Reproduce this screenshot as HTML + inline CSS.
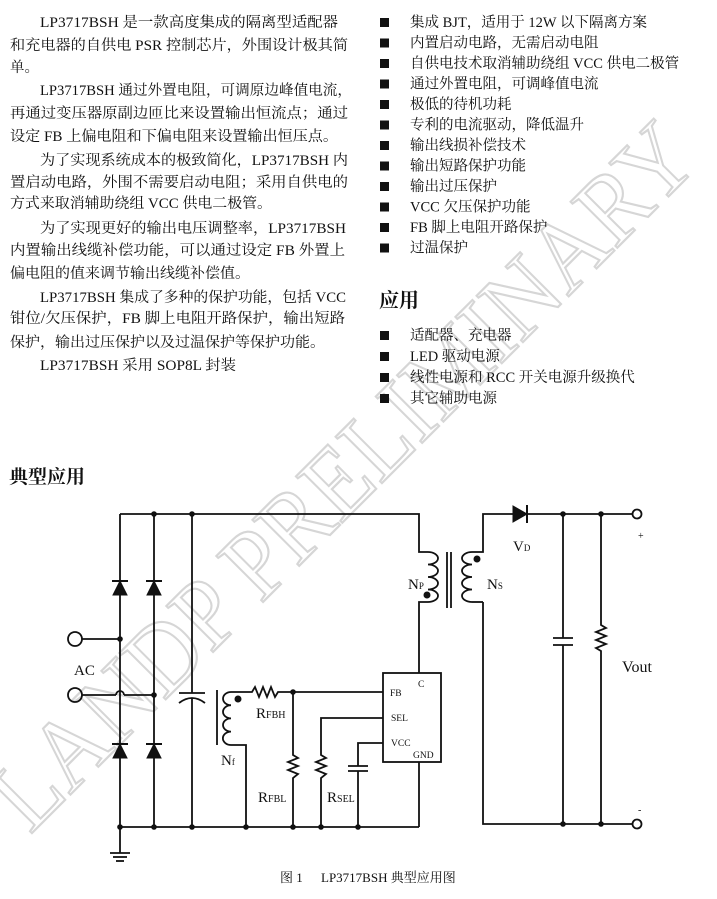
<!DOCTYPE html>
<html><head><meta charset="utf-8"><style>
body{margin:0;background:#fff;}
svg{display:block;}
text{font-family:"Liberation Serif","Noto Serif CJK SC","Noto Sans CJK SC",serif;}
</style></head><body>
<svg width="717" height="899" viewBox="0 0 717 899" xmlns="http://www.w3.org/2000/svg">
<!-- watermark -->
<g transform="translate(30,835) rotate(-45)">
<text x="0" y="0" font-size="100" textLength="950" lengthAdjust="spacingAndGlyphs" fill="#fff" stroke="#d6d6d6" stroke-width="2.2">LANDP PRELIMINARY</text>
</g>

<g font-size="14.5" fill="#111">
<text x="40" y="27" textLength="298" lengthAdjust="spacingAndGlyphs">LP3717BSH 是一款高度集成的隔离型适配器</text>
<text x="10" y="50" textLength="338" lengthAdjust="spacingAndGlyphs">和充电器的自供电 PSR 控制芯片，外围设计极其简</text>
<text x="10" y="72">单。</text>
<text x="40" y="95" textLength="312" lengthAdjust="spacingAndGlyphs">LP3717BSH 通过外置电阻，可调原边峰值电流，</text>
<text x="10" y="118" textLength="338" lengthAdjust="spacingAndGlyphs">再通过变压器原副边匝比来设置输出恒流点；通过</text>
<text x="10" y="141" textLength="328" lengthAdjust="spacingAndGlyphs">设定 FB 上偏电阻和下偏电阻来设置输出恒压点。</text>
<text x="40" y="165" textLength="308" lengthAdjust="spacingAndGlyphs">为了实现系统成本的极致简化，LP3717BSH 内</text>
<text x="10" y="187" textLength="338" lengthAdjust="spacingAndGlyphs">置启动电路，外围不需要启动电阻；采用自供电的</text>
<text x="10" y="208" textLength="262" lengthAdjust="spacingAndGlyphs">方式来取消辅助绕组 VCC 供电二极管。</text>
<text x="40" y="233" textLength="306" lengthAdjust="spacingAndGlyphs">为了实现更好的输出电压调整率，LP3717BSH</text>
<text x="10" y="255" textLength="335" lengthAdjust="spacingAndGlyphs">内置输出线缆补偿功能，可以通过设定 FB 外置上</text>
<text x="10" y="278" textLength="240" lengthAdjust="spacingAndGlyphs">偏电阻的值来调节输出线缆补偿值。</text>
<text x="40" y="302" textLength="306" lengthAdjust="spacingAndGlyphs">LP3717BSH 集成了多种的保护功能，包括 VCC</text>
<text x="10" y="323" textLength="335" lengthAdjust="spacingAndGlyphs">钳位/欠压保护，FB 脚上电阻开路保护，输出短路</text>
<text x="10" y="347" textLength="315" lengthAdjust="spacingAndGlyphs">保护，输出过压保护以及过温保护等保护功能。</text>
<text x="40" y="370" textLength="196" lengthAdjust="spacingAndGlyphs">LP3717BSH 采用 SOP8L 封装</text>
</g>

<g font-size="14.5" fill="#111">
<g fill="#111">
<rect x="380" y="18" width="9" height="9"/><rect x="380" y="38.5" width="9" height="9"/><rect x="380" y="59" width="9" height="9"/><rect x="380" y="79.5" width="9" height="9"/><rect x="380" y="100" width="9" height="9"/><rect x="380" y="120.5" width="9" height="9"/><rect x="380" y="141" width="9" height="9"/><rect x="380" y="161.5" width="9" height="9"/><rect x="380" y="182" width="9" height="9"/><rect x="380" y="202.5" width="9" height="9"/><rect x="380" y="223" width="9" height="9"/><rect x="380" y="243.5" width="9" height="9"/>
<rect x="380" y="331" width="9" height="9"/><rect x="380" y="352" width="9" height="9"/><rect x="380" y="373" width="9" height="9"/><rect x="380" y="394" width="9" height="9"/>
</g>
<text x="410" y="27">集成 BJT，适用于 12W 以下隔离方案</text>
<text x="410" y="47.5">内置启动电路，无需启动电阻</text>
<text x="410" y="68">自供电技术取消辅助绕组 VCC 供电二极管</text>
<text x="410" y="88.5">通过外置电阻，可调峰值电流</text>
<text x="410" y="109">极低的待机功耗</text>
<text x="410" y="129.5">专利的电流驱动，降低温升</text>
<text x="410" y="150">输出线损补偿技术</text>
<text x="410" y="170.5">输出短路保护功能</text>
<text x="410" y="191">输出过压保护</text>
<text x="410" y="211.5">VCC 欠压保护功能</text>
<text x="410" y="232">FB 脚上电阻开路保护</text>
<text x="410" y="252.5">过温保护</text>
<text x="379" y="307" font-size="20" font-weight="bold" font-family="Liberation Sans,Noto Sans CJK SC,sans-serif">应用</text>
<text x="410" y="340">适配器、充电器</text>
<text x="410" y="361">LED 驱动电源</text>
<text x="410" y="382">线性电源和 RCC 开关电源升级换代</text>
<text x="410" y="403">其它辅助电源</text>
<text x="9" y="483" font-size="19" font-weight="bold" font-family="Liberation Sans,Noto Sans CJK SC,sans-serif">典型应用</text>
</g>

<!-- circuit -->
<g stroke="#111" stroke-width="1.8" fill="none">
<polyline points="120,514 419,514 419,552 428,552"/>
<line x1="120" y1="514" x2="120" y2="827"/>
<line x1="154" y1="514" x2="154" y2="827"/>
<line x1="192" y1="514" x2="192" y2="693"/>
<line x1="192" y1="698" x2="192" y2="827"/>
<line x1="179" y1="693" x2="205" y2="693"/>
<path d="M179,703 Q192,693 205,703"/>
<line x1="82" y1="639" x2="120" y2="639"/>
<polyline points="82,695 116,695"/>
<path d="M116,695 A4,4 0 0 1 124,695"/>
<line x1="124" y1="695" x2="154" y2="695"/>
<circle cx="75" cy="639" r="7"/>
<circle cx="75" cy="695" r="7"/>
<line x1="120" y1="827" x2="419" y2="827"/>
<line x1="120" y1="827" x2="120" y2="853"/>
<line x1="110" y1="853" x2="130" y2="853"/>
<line x1="113" y1="857" x2="127" y2="857"/>
<line x1="116" y1="861" x2="124" y2="861"/>
<path d="M428,552 A10,6.25 0 0 1 428,564.5 A10,6.25 0 0 1 428,577 A10,6.25 0 0 1 428,589.5 A10,6.25 0 0 1 428,602"/>
<polyline points="428,602 419,602 419,673"/>
<line x1="447" y1="552" x2="447" y2="608"/>
<line x1="451" y1="552" x2="451" y2="608"/>
<polyline points="483,602 472,602"/>
<path d="M472,552 A10,6.25 0 0 0 472,564.5 A10,6.25 0 0 0 472,577 A10,6.25 0 0 0 472,589.5 A10,6.25 0 0 0 472,602"/>
<polyline points="472,552 483,552 483,514 637,514"/>
<polyline points="483,602 483,824 637,824"/>
<circle cx="637" cy="514" r="4.5" fill="#fff"/>
<circle cx="637" cy="824" r="4.5" fill="#fff"/>
<line x1="563" y1="514" x2="563" y2="638"/>
<line x1="563" y1="645" x2="563" y2="824"/>
<line x1="553" y1="638" x2="573" y2="638"/>
<line x1="553" y1="645" x2="573" y2="645"/>
<polyline points="601,514 601,625 606,628 596,632 606,636 596,640 606,644 596,648 601,651 601,824"/>
<rect x="383" y="673" width="58" height="89" fill="#fff"/>
<line x1="419" y1="762" x2="419" y2="827"/>
<line x1="217" y1="690" x2="217" y2="745"/>
<path d="M231,692 A8,6.6 0 0 0 231,705.2 A8,6.6 0 0 0 231,718.4 A8,6.6 0 0 0 231,731.6 A8,6.6 0 0 0 231,745"/>
<polyline points="231,692 252,692 255,687 259,697 263,687 267,697 271,687 275,697 278,692 383,692"/>
<polyline points="231,745 246,745 246,827"/>
<polyline points="293,692 293,755 298,758 288,762 298,766 288,770 298,774 293,778 293,827"/>
<polyline points="383,718 321,718 321,755 326,758 316,762 326,766 316,770 326,774 321,778 321,827"/>
<polyline points="383,743 358,743 358,766"/>
<line x1="348" y1="766" x2="368" y2="766"/>
<line x1="348" y1="771" x2="368" y2="771"/>
<line x1="358" y1="771" x2="358" y2="827"/>
</g>
<g fill="#111" stroke="#111" stroke-width="1">
<polygon points="113,595 127,595 120,581"/><line x1="112" y1="581" x2="128" y2="581" stroke-width="2"/>
<polygon points="147,595 161,595 154,581"/><line x1="146" y1="581" x2="162" y2="581" stroke-width="2"/>
<polygon points="113,758 127,758 120,744"/><line x1="112" y1="744" x2="128" y2="744" stroke-width="2"/>
<polygon points="147,758 161,758 154,744"/><line x1="146" y1="744" x2="162" y2="744" stroke-width="2"/>
<polygon points="513,506 513,522 527,514"/><line x1="527" y1="505" x2="527" y2="523" stroke-width="2"/>
</g>
<g fill="#111">
<circle cx="154" cy="514" r="2.8"/><circle cx="192" cy="514" r="2.8"/>
<circle cx="120" cy="639" r="2.8"/><circle cx="154" cy="695" r="2.8"/>
<circle cx="120" cy="827" r="2.8"/><circle cx="154" cy="827" r="2.8"/><circle cx="192" cy="827" r="2.8"/>
<circle cx="246" cy="827" r="2.8"/><circle cx="293" cy="827" r="2.8"/><circle cx="321" cy="827" r="2.8"/><circle cx="358" cy="827" r="2.8"/>
<circle cx="293" cy="692" r="2.8"/>
<circle cx="563" cy="514" r="2.8"/><circle cx="601" cy="514" r="2.8"/>
<circle cx="563" cy="824" r="2.8"/><circle cx="601" cy="824" r="2.8"/>
<circle cx="427" cy="595" r="3.5"/><circle cx="477" cy="559" r="3.5"/><circle cx="238" cy="699" r="3.5"/>
</g>
<g fill="#111" font-size="15">
<text x="74" y="675">AC</text>
<text x="408" y="589">N<tspan font-size="9">P</tspan></text>
<text x="487" y="589">N<tspan font-size="9">S</tspan></text>
<text x="513" y="551">V<tspan font-size="9">D</tspan></text>
<text x="622" y="672" font-size="16">Vout</text>
<text x="638" y="539" font-size="10">+</text>
<text x="638" y="813" font-size="10">-</text>
<text x="256" y="718">R<tspan font-size="10">FBH</tspan></text>
<text x="258" y="802">R<tspan font-size="10">FBL</tspan></text>
<text x="327" y="802">R<tspan font-size="10">SEL</tspan></text>
<text x="221" y="765">N<tspan font-size="9">f</tspan></text>
</g>
<g fill="#111" font-size="9.5">
<text x="418" y="687">C</text>
<text x="390" y="696">FB</text>
<text x="391" y="721">SEL</text>
<text x="391" y="746">VCC</text>
<text x="413" y="758">GND</text>
</g>
<text x="280" y="882" font-size="13" fill="#111">图 1</text>
<text x="321" y="882" font-size="13" fill="#111">LP3717BSH 典型应用图</text>
</svg>
</body></html>
